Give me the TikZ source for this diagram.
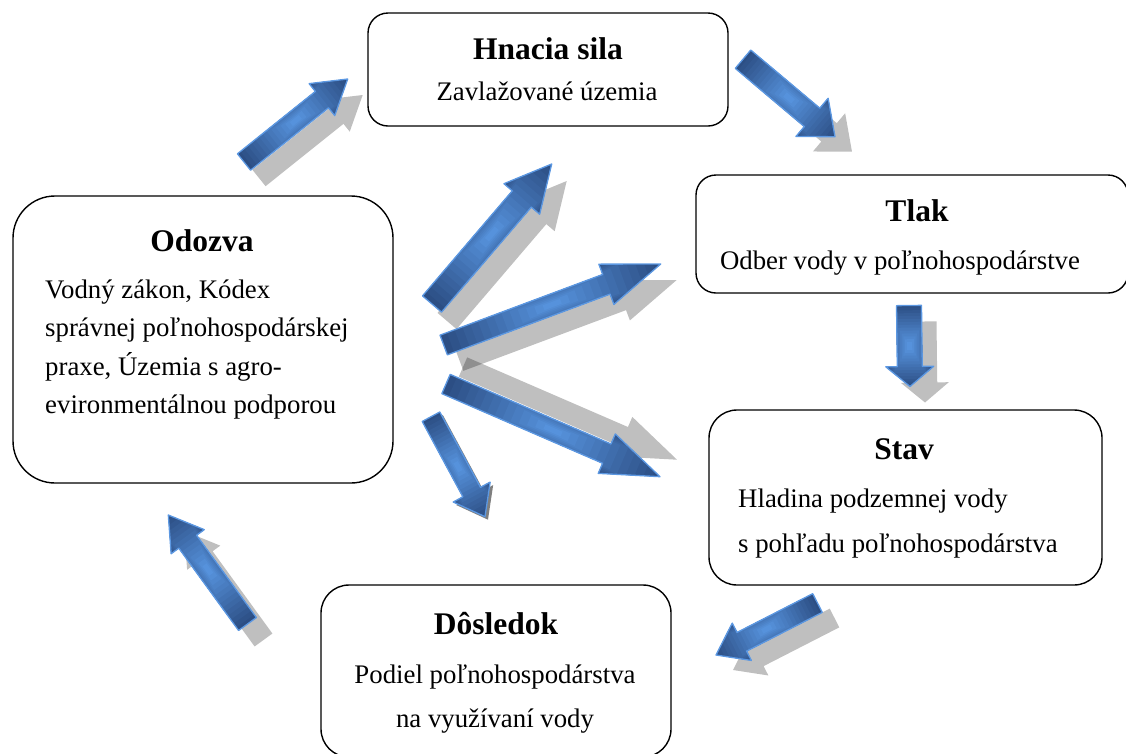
\documentclass[tikz,border=0pt]{standalone}
\usepackage{fontspec}
\setmainfont{Liberation Serif}
\definecolor{baDark}{RGB}{44,78,132}
\definecolor{baLight}{RGB}{86,146,220}
\definecolor{baEdge}{RGB}{92,152,226}
\newcommand\shop{0.25}
% tail x, tail y, tip x, tip y, shaft width, head width, head length
\newcommand\baset[7]{%
  \pgfmathsetmacro\bax{#1}%
  \pgfmathsetmacro\bay{#2}%
  \pgfmathsetmacro\baang{atan2(-((#4)-(#2)),(#3)-(#1))}%
  \pgfmathsetmacro\baL{veclen((#3)-(#1),(#4)-(#2))}%
  \pgfmathsetmacro\baa{(#5)/2}%
  \pgfmathsetmacro\bab{(#6)/2}%
  \pgfmathsetmacro\bah{\baL-(#7)}%
}
\newcommand\bashadow[2]{%
  \begin{scope}[shift={({\bax+(#1)},{\bay+(#2)})}, rotate=\baang]
    \fill[black, opacity=\shop] (0,\baa) -- (\bah,\baa) -- (\bah,\bab) -- (\baL,0) -- (\bah,-\bab) -- (\bah,-\baa) -- (0,-\baa) -- cycle;
  \end{scope}}
\newcommand\babody{%
  \begin{scope}[shift={(\bax,\bay)}, rotate=\baang]
    \begin{scope}
      \clip (0,\baa) -- (\bah,\baa) -- (\bah,\bab) -- (\baL,0) -- (\bah,-\bab) -- (\bah,-\baa) -- (0,-\baa) -- cycle;
      \foreach \i in {0,...,13}{
        \pgfmathsetmacro\bas{1-\i/14}
        \pgfmathtruncatemacro\bapct{100*\i/13}
        \fill[baLight!\bapct!baDark] ({\baL/2*(1-\bas)-1},{-\bas*\bab-1}) rectangle ({\baL/2*(1+\bas)+1},{\bas*\bab+1});
      }
    \end{scope}
    \draw[baEdge, line width=1.3pt, line join=round] (0,\baa) -- (\bah,\baa) -- (\bah,\bab) -- (\baL,0) -- (\bah,-\bab) -- (\bah,-\baa) -- (0,-\baa) -- cycle;
  \end{scope}}
% arrow data
\def\arrA{{244}{162}{347.7}{79}{21}{41}{33}}
\def\arrB{{743}{59.2}{835}{136.7}{24}{50}{30}}
\def\arrC{{909}{305.5}{910}{386.5}{25}{48}{20}}
\def\arrD{{817.5}{603}{716}{655}{21}{42}{29}}
\def\arrE{{247.5}{624}{168.3}{515}{22}{41}{33}}
\def\arrF{{432}{304}{551.7}{164}{25}{47}{46}}
\def\arrG{{443.7}{345}{660.7}{264}{21}{43}{58}}
\def\arrH{{446}{384}{660}{476.7}{21}{43}{58}}
\def\arrI{{431}{416.7}{485}{516.7}{20}{42}{28}}
\tikzset{
  box/.style={draw=black, line width=1.4pt, fill=white, rectangle, inner sep=0pt},
  ttl/.style={font=\fontsize{31.5pt}{36pt}\selectfont\bfseries, inner sep=0pt, anchor=base},
  txt/.style={font=\fontsize{26.8pt}{32pt}\selectfont, inner sep=0pt, anchor=base},
  txtl/.style={txt, anchor=base west}
}
\begin{document}
\begin{tikzpicture}[x=1pt,y=-1pt]
\useasboundingbox (0,0) rectangle (1126,753);
% shadows
\expandafter\baset\arrA \bashadow{15}{16}
\expandafter\baset\arrB \bashadow{17}{15}
\expandafter\baset\arrC \bashadow{15}{16}
\expandafter\baset\arrD \bashadow{17}{15}
\expandafter\baset\arrE \bashadow{16}{16}
\expandafter\baset\arrF \bashadow{15}{17}
\expandafter\baset\arrG \bashadow{16}{16}
\expandafter\baset\arrH \bashadow{17}{-17}
\renewcommand\shop{0.5}
\expandafter\baset\arrI \bashadow{3}{3}
% arrows
\expandafter\baset\arrA \babody
\expandafter\baset\arrB \babody
\expandafter\baset\arrC \babody
\expandafter\baset\arrD \babody
\expandafter\baset\arrE \babody
\expandafter\baset\arrF \babody
\expandafter\baset\arrG \babody
\expandafter\baset\arrH \babody
\expandafter\baset\arrI \babody
% boxes
\node[box, minimum width=360pt, minimum height=113pt, rounded corners=20pt] (hnacia) at (548,69.5) {};
\node[box, minimum width=432pt, minimum height=118pt, rounded corners=20pt] (tlak) at (912,234) {};
\node[box, minimum width=393pt, minimum height=175pt, rounded corners=28pt] (stav) at (905.5,497.5) {};
\node[box, minimum width=350pt, minimum height=172pt, rounded corners=28pt] (dosledok) at (496,671) {};
\node[box, minimum width=380pt, minimum height=287pt, rounded corners=42pt] (odozva) at (203,339.5) {};
% texts
\node[ttl] (hnaciaT) at (548,59) {Hnacia sila};
\node[txt] (hnaciaS) at (547,100) {Zavlažované územia};
\node[ttl] (tlakT) at (917,221) {Tlak};
\node[txt] (tlakS) at (900,269) {Odber vody v poľnohospodárstve};
\node[ttl] (stavT) at (904,459) {Stav};
\node[txtl] (stavS1) at (738,507) {Hladina podzemnej vody};
\node[txtl] (stavS2) at (738,552) {s pohľadu poľnohospodárstva};
\node[ttl] (dosledokT) at (496,634) {Dôsledok};
\node[txt] (dosledokS1) at (495,683) {Podiel poľnohospodárstva};
\node[txt] (dosledokS2) at (495,727) {na využívaní vody};
\node[ttl] (odozvaT) at (202,251) {Odozva};
\node[txtl] (odozvaS1) at (45,298) {Vodný zákon, Kódex};
\node[txtl] (odozvaS2) at (45,336.5) {správnej poľnohospodárskej};
\node[txtl] (odozvaS3) at (45,375) {praxe, Územia s agro-};
\node[txtl] (odozvaS4) at (45,413.5) {evironmentálnou podporou};
\end{tikzpicture}
\end{document}
